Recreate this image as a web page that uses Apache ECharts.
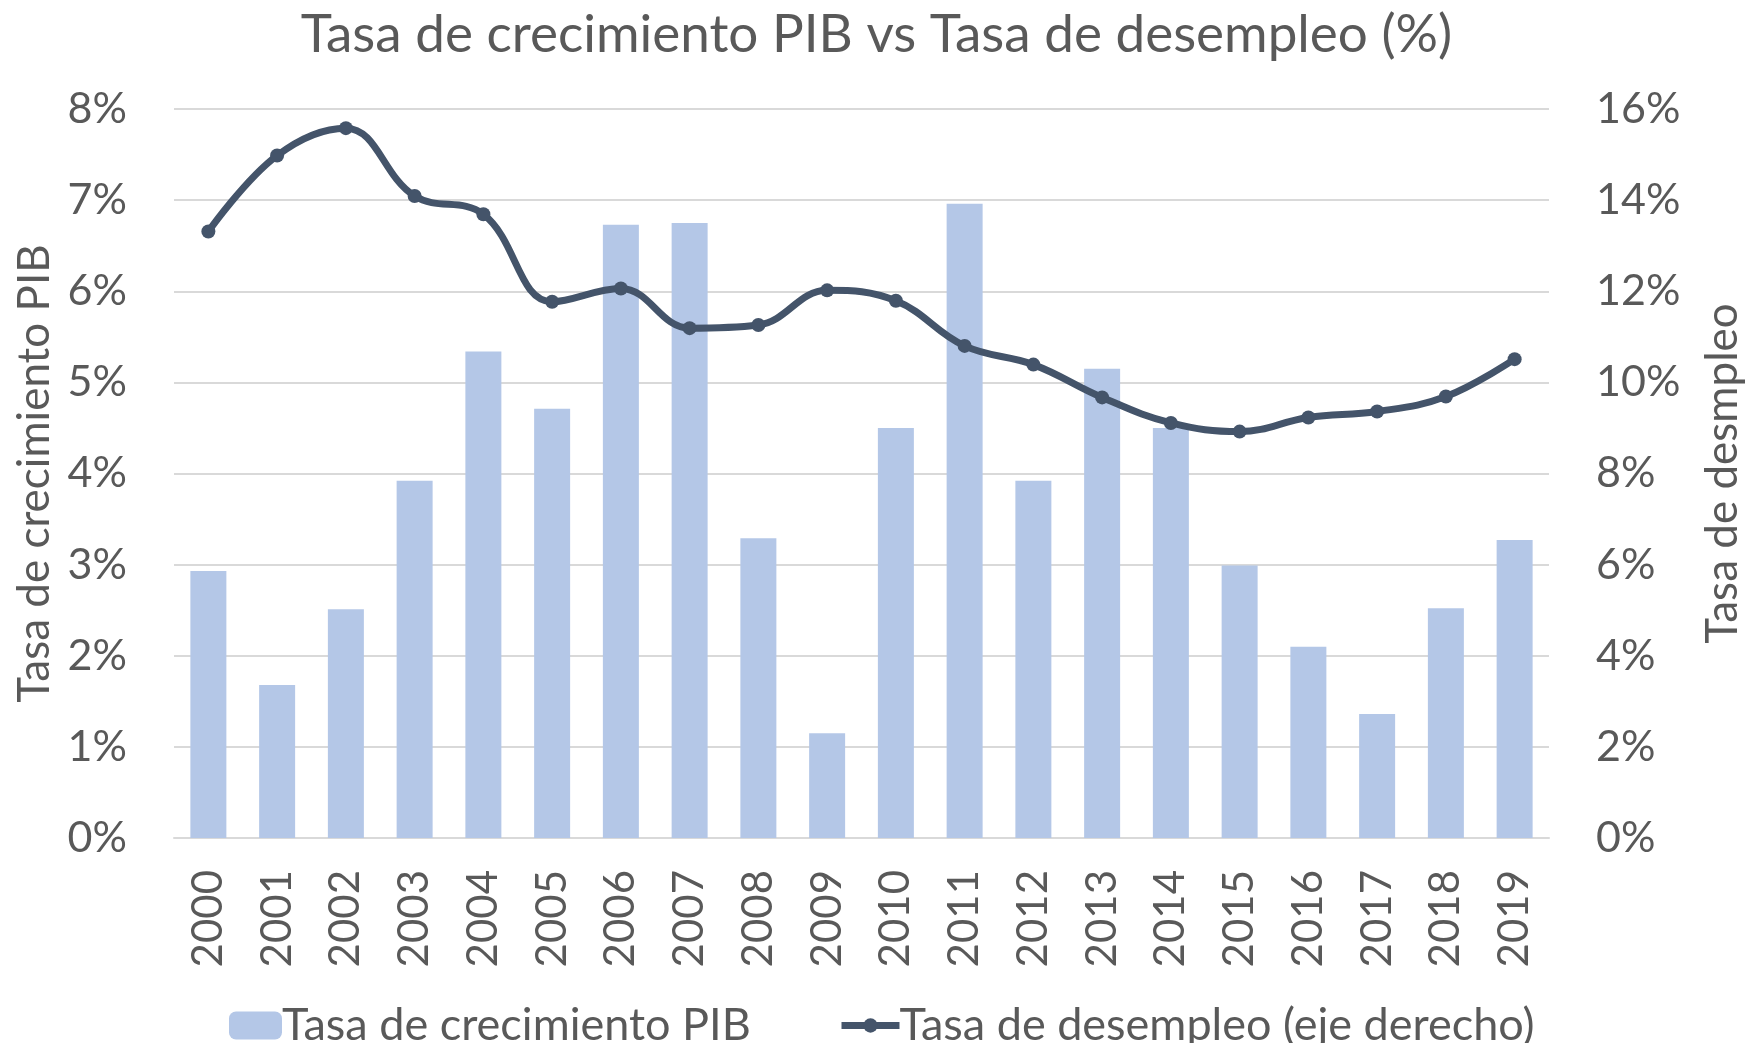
<!DOCTYPE html>
<html>
<head>
<meta charset="utf-8">
<script src="https://cdn.jsdelivr.net/npm/echarts@6/dist/echarts.min.js"></script>
<style>
  html, body { margin: 0; padding: 0; background: #fff; }
  #chart { width: 1753px; height: 1043px; }
</style>
</head>
<body>
<div id="chart"></div>
<script>
// años
const years = ['2000','2001','2002','2003','2004','2005','2006','2007','2008','2009',
               '2010','2011','2012','2013','2014','2015','2016','2017','2018','2019']
// tasa de crecimiento PIB (%), eje izquierdo
const gdpGrowth = [2.93, 1.68, 2.51, 3.92, 5.34, 4.71, 6.73, 6.75, 3.29, 1.15,
                   4.50, 6.96, 3.92, 5.15, 4.50, 2.99, 2.10, 1.36, 2.52, 3.27]
// tasa de desempleo (%), eje derecho
const unemployment = [13.31, 14.98, 15.58, 14.09, 13.69, 11.77, 12.06, 11.19, 11.26, 12.02,
                      11.79, 10.80, 10.39, 9.67, 9.11, 8.92, 9.23, 9.36, 9.69, 10.51]
// marcas de los ejes
const leftTicks = { min: 0, max: 8, step: 1 }
const rightTicks = { min: 0, max: 16, step: 2 }

const FONT = 'Lato'
const TXT = '#595959'
const GRID = '#D9D9D9'

let myChart = echarts.init(document.getElementById('chart'))

let option = {
    animation: false,
    title: {
        text: 'Tasa de crecimiento PIB vs Tasa de desempleo (%)',
        left: 'center',
        top: 3,
        textStyle: { fontFamily: FONT, fontSize: 53, fontWeight: 'normal', color: TXT }
    },
    legend: [
        {
            data: ['Tasa de crecimiento PIB'],
            left: 224,
            top: 998,
            itemWidth: 53,
            itemHeight: 28,
            textStyle: { fontFamily: FONT, fontSize: 45, color: TXT, padding: [0, 0, 0, -5], lineHeight: 45 }
        },
        {
            data: ['Tasa de desempleo (eje derecho)'],
            left: 833,
            top: 998,
            itemWidth: 58,
            itemHeight: 18,
            lineStyle: { width: 7 },
            textStyle: { fontFamily: FONT, fontSize: 45, color: TXT, padding: [0, 0, 0, -5], lineHeight: 45 }
        }
    ],
    grid: {
        left: 174,
        right: 198,
        top: 109,
        bottom: 205
    },
    xAxis: {
        type: 'category',
        data: years,
        axisTick: { show: false },
        axisLine: { lineStyle: { color: GRID, width: 2 } },
        axisLabel: {
            rotate: 90,
            margin: 32,
            fontFamily: FONT,
            fontSize: 42,
            color: TXT
        }
    },
    yAxis: [
        {
            type: 'value',
            min: leftTicks.min,
            max: leftTicks.max,
            interval: leftTicks.step,
            name: 'Tasa de crecimiento PIB',
            nameLocation: 'middle',
            nameGap: 116,
            nameRotate: 90,
            nameTextStyle: { fontFamily: FONT, fontSize: 44, color: TXT },
            axisLine: { show: false },
            axisTick: { show: false },
            axisLabel: { formatter: '{value}%', margin: 47, fontFamily: FONT, fontSize: 43, color: TXT },
            splitLine: { lineStyle: { color: GRID, width: 2 } }
        },
        {
            type: 'value',
            position: 'right',
            min: rightTicks.min,
            max: rightTicks.max,
            interval: rightTicks.step,
            name: 'Tasa de desmpleo',
            nameLocation: 'middle',
            nameGap: 152,
            nameRotate: 90,
            nameTextStyle: { fontFamily: FONT, fontSize: 44, color: TXT },
            axisLine: { show: false },
            axisTick: { show: false },
            axisLabel: { formatter: '{value}%', margin: 47, fontFamily: FONT, fontSize: 43, color: TXT },
            splitLine: { show: false }
        }
    ],
    series: [
        {
            name: 'Tasa de crecimiento PIB',
            type: 'bar',
            data: gdpGrowth,
            barWidth: 36,
            itemStyle: { color: '#B4C7E7' }
        },
        {
            name: 'Tasa de desempleo (eje derecho)',
            type: 'line',
            yAxisIndex: 1,
            data: unemployment,
            smooth: 0.4,
            symbol: 'circle',
            symbolSize: 14,
            lineStyle: { color: '#44546A', width: 7 },
            itemStyle: { color: '#44546A' }
        }
    ]
}

myChart.setOption(option)
</script>
</body>
</html>
